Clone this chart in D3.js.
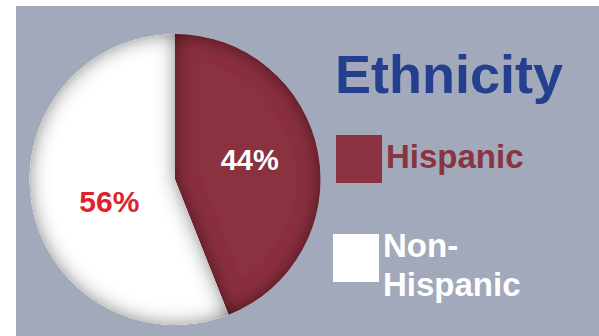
<!DOCTYPE html>
<html lang="en">
<head>
    <meta charset="UTF-8">
    <title>Ethnicity</title>
    <style>
        body {
            margin: 0;
            background: #ffffff;
            font-family: "Liberation Sans", Arial, sans-serif;
        }
        svg text {
            font-weight: bold;
        }
    </style>
</head>
<body>
    <div id="chart"></div>
    <script src="https://d3js.org/d3.v7.min.js"></script>
    <script>
        // data
        const categories = ["Hispanic", "Non-Hispanic"];
        const values = [44, 56];
        const valueLabels = ["44%", "56%"];
        const legendLines = [["Hispanic"], ["Non-", "Hispanic"]];

        const width = 599;
        const height = 336;

        const sliceColor = d3.scaleOrdinal().domain(categories).range(["#8b3341", "#ffffff"]);
        const labelColor = d3.scaleOrdinal().domain(categories).range(["#ffffff", "#e0202c"]);
        const legendText = d3.scaleOrdinal().domain(categories).range(["#8b3341", "#ffffff"]);

        const svg = d3.select("#chart")
            .append("svg")
            .attr("width", width)
            .attr("height", height);

        // inner bevel shadow
        const defs = svg.append("defs");
        const f = defs.append("filter").attr("id", "bevel")
            .attr("x", "-10%").attr("y", "-10%").attr("width", "120%").attr("height", "120%");
        f.append("feGaussianBlur").attr("in", "SourceAlpha").attr("stdDeviation", 10).attr("result", "blur");
        f.append("feComposite").attr("in", "SourceAlpha").attr("in2", "blur")
            .attr("operator", "arithmetic").attr("k2", 1.3).attr("k3", -1.3).attr("result", "edge");
        f.append("feFlood").attr("flood-color", "#000").attr("flood-opacity", 0.7).attr("result", "col");
        f.append("feComposite").attr("in", "col").attr("in2", "edge").attr("operator", "in").attr("result", "shadow");
        const merge = f.append("feMerge");
        merge.append("feMergeNode").attr("in", "SourceGraphic");
        merge.append("feMergeNode").attr("in", "shadow");

        // background panel
        svg.append("rect")
            .attr("x", 16).attr("y", 6)
            .attr("width", width - 16).attr("height", height - 6)
            .attr("fill", "#a2a9ba");

        const cx = 175, cy = 179.5, R = 145.5;

        const pie = d3.pie().sort(null).value(d => d);
        const arcs = pie(values);
        const arc = d3.arc().innerRadius(0).outerRadius(R);
        const labelArc = d3.arc().innerRadius(72).outerRadius(72);
        const labelNudge = [[4, -6], [5, 8]];

        const g = svg.append("g").attr("transform", `translate(${cx},${cy})`);

        g.selectAll("path.slice")
            .data(arcs)
            .enter()
            .append("path")
            .attr("class", "slice")
            .attr("d", arc)
            .attr("fill", (d, i) => sliceColor(categories[i]))
            .attr("filter", "url(#bevel)");

        g.selectAll("text.pct")
            .data(arcs)
            .enter()
            .append("text")
            .attr("class", "pct")
            .attr("x", (d, i) => labelArc.centroid(d)[0] + labelNudge[i][0])
            .attr("y", (d, i) => labelArc.centroid(d)[1] + labelNudge[i][1])
            .attr("dy", "0.36em")
            .attr("text-anchor", "middle")
            .style("font-size", (d, i) => i === 0 ? "29px" : "30px")
            .attr("fill", (d, i) => labelColor(categories[i]))
            .text((d, i) => valueLabels[i]);

        // title
        svg.append("text")
            .attr("x", 335).attr("y", 93)
            .style("font-size", "54px")
            .attr("fill", "#243f8e")
            .text("Ethnicity");

        // legend
        const legendY = d3.scalePoint().domain(categories).range([135, 234]);
        const leg = svg.selectAll("g.leg")
            .data(categories)
            .enter()
            .append("g")
            .attr("class", "leg")
            .attr("transform", (d, i) => `translate(${336 - i * 3},${legendY(d)})`);

        leg.append("rect")
            .attr("width", 46).attr("height", 48)
            .attr("fill", d => sliceColor(d));

        leg.append("text")
            .attr("x", 50)
            .attr("y", (d, i) => i === 0 ? 33 : 23)
            .style("font-size", "33px")
            .attr("fill", d => legendText(d))
            .selectAll("tspan")
            .data((d, i) => legendLines[i])
            .enter()
            .append("tspan")
            .attr("x", 50)
            .attr("dy", (d, j) => j === 0 ? 0 : 39)
            .text(d => d);
    </script>
</body>
</html>
